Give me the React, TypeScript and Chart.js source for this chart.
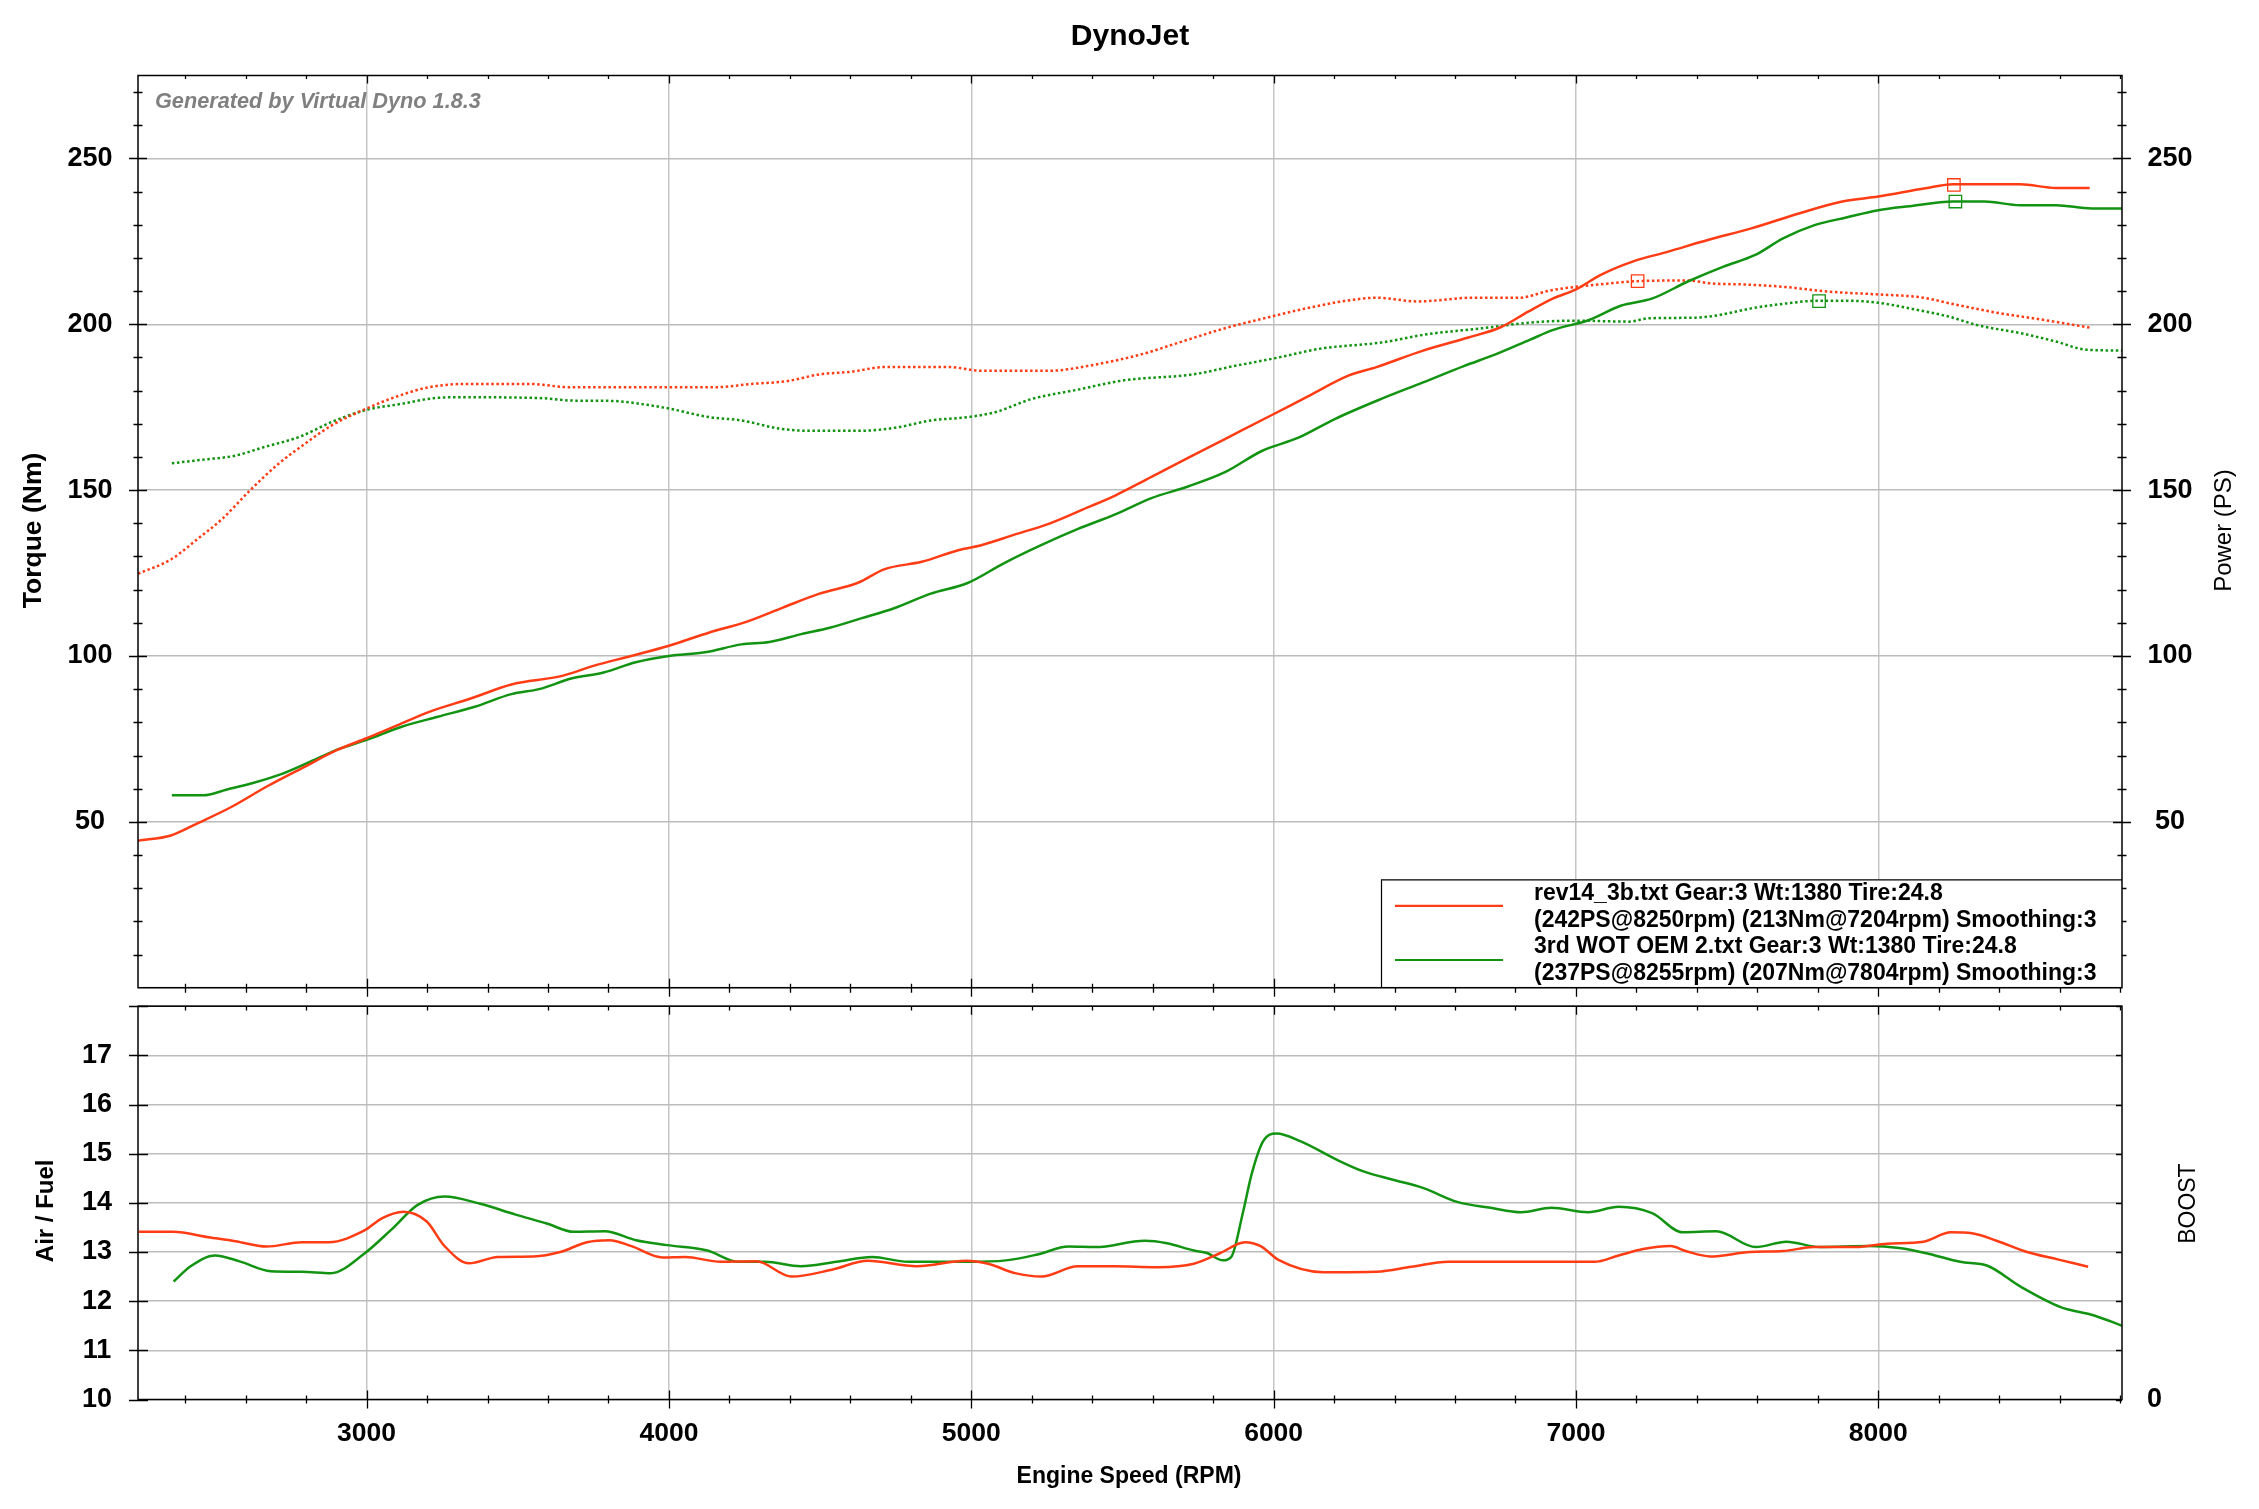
import React, { useEffect, useRef } from 'react';
import { Chart, registerables } from 'chart.js';

Chart.register(...registerables);

// ---------------- data ----------------
const rpmRange = [2244, 8806];
const rpmTicks = [3000, 4000, 5000, 6000, 7000, 8000];

const rev14PowerRpm = [2244, 2353, 2444, 2551, 2673, 2795, 2901, 3000, 3099, 3205, 3342, 3479, 3647, 3753, 3875, 4000, 4134, 4256, 4377, 4498, 4623, 4714, 4836, 4957, 5033, 5140, 5261, 5383, 5474, 5596, 5717, 5839, 5991, 6112, 6249, 6340, 6492, 6644, 6751, 6842, 6925, 7000, 7082, 7187, 7305, 7436, 7580, 7737, 7881, 8000, 8156, 8247, 8351, 8469, 8588, 8699];
const rev14PowerPS = [44.3, 45.9, 49.7, 54.4, 60.8, 66.6, 71.6, 75.2, 79, 83.1, 87.1, 91.4, 94, 97.1, 100, 103.1, 107.1, 110.3, 114.6, 118.8, 122, 126.2, 128.4, 131.9, 133.4, 136.5, 140, 144.7, 148.3, 154, 159.7, 165.4, 172.5, 178.2, 184.6, 187.1, 192, 196, 199.1, 203.8, 207.8, 210.5, 214.9, 218.9, 221.9, 225.4, 228.9, 233.4, 237, 238.5, 241, 242.2, 242.2, 242.2, 241.1, 241.1];

const oemPowerRpm = [2356, 2460, 2536, 2627, 2718, 2825, 2916, 3000, 3114, 3236, 3358, 3479, 3571, 3677, 3784, 3890, 4000, 4119, 4240, 4332, 4438, 4532, 4638, 4745, 4866, 4988, 5109, 5231, 5353, 5474, 5596, 5717, 5839, 5961, 6082, 6204, 6356, 6492, 6629, 6736, 6847, 6925, 7043, 7148, 7253, 7370, 7488, 7593, 7685, 7789, 7894, 8000, 8103, 8247, 8351, 8469, 8588, 8705, 8806];
const oemPowerPS = [58, 58, 59.7, 61.8, 64.4, 68.6, 72.2, 74.7, 78.6, 81.7, 84.7, 88.5, 90, 93.2, 95, 98.1, 100, 101.1, 103.5, 104.2, 106.6, 108.5, 111.4, 114.4, 118.8, 122, 128, 133.4, 138.3, 142.6, 147.6, 151.1, 155.4, 161.8, 165.8, 171.5, 177.5, 182.4, 187.4, 191, 195.3, 198.3, 201.3, 205.6, 207.8, 212.9, 217.4, 220.9, 225.9, 229.9, 232.2, 234.4, 235.6, 237, 237, 235.9, 235.9, 234.9, 234.9];

const rev14TorqueRpm = [2244, 2353, 2444, 2521, 2612, 2703, 2795, 2886, 3000, 3099, 3205, 3327, 3540, 3677, 3890, 4149, 4271, 4393, 4498, 4603, 4714, 4927, 5033, 5261, 5383, 5565, 5687, 5839, 5991, 6128, 6234, 6340, 6477, 6659, 6811, 6915, 7000, 7109, 7202, 7370, 7449, 7554, 7685, 7842, 7999, 8143, 8247, 8391, 8535, 8699];
const rev14TorqueNm = [124.8, 129.1, 135.5, 141.2, 149.7, 157.5, 163.9, 169.6, 174.6, 178.2, 181, 182, 182, 181, 181, 181, 182, 182.9, 184.9, 185.7, 187.1, 187.1, 186, 186, 187.4, 191, 194.5, 198.8, 202.3, 205.2, 207, 208, 206.9, 208, 208, 210.2, 211.3, 212.3, 213, 213.2, 212.3, 212, 211.3, 209.8, 209, 208.1, 206.1, 203.5, 201.5, 199];

const oemTorqueRpm = [2356, 2460, 2566, 2658, 2779, 2886, 3000, 3114, 3221, 3312, 3586, 3677, 3814, 3906, 4000, 4134, 4240, 4362, 4454, 4603, 4669, 4760, 4866, 4988, 5079, 5201, 5353, 5505, 5733, 5869, 6006, 6158, 6356, 6508, 6690, 6847, 7000, 7174, 7240, 7397, 7475, 7580, 7697, 7801, 7894, 7999, 8103, 8234, 8325, 8482, 8587, 8691, 8806];
const oemTorqueNm = [158.1, 159.2, 160.4, 162.9, 166.1, 170.6, 174.2, 176, 177.7, 178, 177.7, 177, 176.9, 176, 174.6, 172, 171, 168.6, 167.9, 167.9, 168, 169, 171, 172, 173.5, 177.5, 180.3, 183.1, 184.9, 187.4, 189.8, 192.7, 194.5, 197, 198.8, 200.5, 201.1, 200.8, 201.8, 202, 202.8, 204.8, 206.3, 207.1, 207.1, 206.5, 204.8, 202.3, 199.8, 197.1, 194.8, 192.3, 192.1];

const rev14AfrRpm = [2247, 2360, 2477, 2566, 2669, 2786, 2875, 2993, 3052, 3122, 3199, 3258, 3339, 3434, 3552, 3641, 3729, 3803, 3876, 3979, 4053, 4171, 4289, 4406, 4539, 4657, 4820, 4982, 5056, 5145, 5233, 5352, 5470, 5617, 5736, 5824, 5905, 5957, 6016, 6164, 6341, 6456, 6577, 6798, 7060, 7141, 7222, 7313, 7363, 7444, 7575, 7685, 7786, 7927, 8028, 8149, 8240, 8310, 8391, 8492, 8593, 8694];
const rev14Afr = [13.41, 13.41, 13.3, 13.22, 13.11, 13.2, 13.2, 13.44, 13.69, 13.82, 13.62, 13.12, 12.77, 12.9, 12.91, 13.0, 13.2, 13.24, 13.12, 12.89, 12.9, 12.8, 12.81, 12.5, 12.64, 12.82, 12.71, 12.82, 12.76, 12.57, 12.5, 12.71, 12.71, 12.69, 12.76, 12.98, 13.2, 13.12, 12.84, 12.59, 12.6, 12.7, 12.8, 12.8, 12.8, 12.93, 13.06, 13.12, 13.02, 12.91, 13.0, 13.02, 13.1, 13.1, 13.17, 13.21, 13.4, 13.38, 13.23, 13.0, 12.85, 12.7];

const oemAfrRpm = [2362, 2418, 2499, 2580, 2683, 2786, 2882, 2993, 3081, 3169, 3258, 3376, 3493, 3596, 3685, 3788, 3891, 3994, 4127, 4230, 4318, 4436, 4554, 4672, 4790, 4982, 5115, 5219, 5322, 5411, 5573, 5647, 5736, 5780, 5832, 5861, 5898, 5928, 5965, 6009, 6090, 6208, 6297, 6395, 6496, 6607, 6718, 6819, 6919, 7040, 7141, 7252, 7353, 7464, 7595, 7696, 7806, 7968, 8069, 8169, 8270, 8361, 8472, 8603, 8714, 8806];
const oemAfr = [12.4, 12.71, 12.93, 12.81, 12.61, 12.6, 12.57, 12.97, 13.45, 13.96, 14.13, 13.98, 13.76, 13.58, 13.41, 13.42, 13.24, 13.14, 13.03, 12.8, 12.8, 12.71, 12.8, 12.9, 12.8, 12.8, 12.83, 12.95, 13.11, 13.1, 13.23, 13.18, 13.03, 12.98, 12.83, 12.91, 13.79, 14.6, 15.25, 15.41, 15.25, 14.88, 14.64, 14.47, 14.3, 14.02, 13.9, 13.81, 13.9, 13.81, 13.92, 13.79, 13.4, 13.42, 13.1, 13.21, 13.1, 13.12, 13.08, 12.96, 12.8, 12.72, 12.29, 11.88, 11.71, 11.5];

// peak markers
const rev14PeakRpm = [8250, 7204];
const rev14PeakVal = [242, 213];
const oemPeakRpm = [8255, 7804];
const oemPeakVal = [237, 207];

const torqueTicks = [50, 100, 150, 200, 250];
const afrTicks = [10, 11, 12, 13, 14, 15, 16, 17];

const chartTitle = 'DynoJet';
const watermark = 'Generated by Virtual Dyno 1.8.3';
const legendRev14 = ['rev14_3b.txt Gear:3 Wt:1380 Tire:24.8', '(242PS@8250rpm) (213Nm@7204rpm) Smoothing:3'];
const legendOem = ['3rd WOT OEM 2.txt Gear:3 Wt:1380 Tire:24.8', '(237PS@8255rpm) (207Nm@7804rpm) Smoothing:3'];

// ---------------- style ----------------
const FONT = "'Liberation Sans', Arial, Helvetica, sans-serif";
const RED = '#ff3c14';
const GREEN = '#129312';
const W = 2259;
const TOP_H = 1000;
const BOT_H = 509;

const pts = (xs: number[], ys: number[]) => xs.map((x, i) => ({ x, y: ys[i] }));

const tickFont = { family: FONT, size: 27, weight: 'bold' as const };

function lineDs(label: string, data: any[], color: string, axis: string, dotted: boolean) {
  return {
    label,
    data,
    yAxisID: axis,
    borderColor: color,
    backgroundColor: color,
    borderWidth: 2.5,
    borderDash: dotted ? [2.5, 2.6] : [],
    pointRadius: 0,
    fill: false,
    cubicInterpolationMode: 'monotone' as const,
  };
}

function markerDs(data: any[], color: string, axis: string) {
  return {
    label: 'peak',
    data,
    yAxisID: axis,
    showLine: false,
    borderColor: color,
    backgroundColor: 'rgba(0,0,0,0)',
    pointStyle: 'rect' as const,
    pointRadius: 8.8,
    pointBorderWidth: 1.3,
  };
}

const topDecor = {
  id: 'topDecor',
  afterDraw(chart: any) {
    const { ctx, chartArea: a, scales } = chart;
    const x = scales.x;
    const y = scales.yT;
    ctx.save();
    ctx.strokeStyle = '#000';
    ctx.lineWidth = 1.3;
    ctx.beginPath();
    for (let v = 2400; v <= rpmRange[1]; v += 200) {
      const px = Math.round(x.getPixelForValue(v)) + 0.5;
      const major = v % 1000 === 0;
      ctx.moveTo(px, a.top);
      ctx.lineTo(px, a.top + (major ? 8 : 3.5));
      ctx.moveTo(px, a.bottom - (major ? 9 : 4));
      ctx.lineTo(px, a.bottom + (major ? 9 : 5));
    }
    for (let v = 10; v < 275; v += 10) {
      const py = Math.round(y.getPixelForValue(v)) + 0.5;
      const l = v % 50 === 0 ? 9 : 4.5;
      ctx.moveTo(a.left - l, py);
      ctx.lineTo(a.left + l, py);
      ctx.moveTo(a.right - l, py);
      ctx.lineTo(a.right + l, py);
    }
    ctx.stroke();

    // legend
    const lx = a.right - 741;
    const ly = a.bottom - 108.3;
    ctx.fillStyle = '#fff';
    ctx.fillRect(lx, ly, a.right - lx, a.bottom - ly);
    ctx.lineWidth = 1.2;
    ctx.beginPath();
    ctx.moveTo(lx + 0.5, a.bottom);
    ctx.lineTo(lx + 0.5, ly + 0.5);
    ctx.lineTo(a.right, ly + 0.5);
    ctx.stroke();
    ctx.lineWidth = 2.2;
    ctx.strokeStyle = RED;
    ctx.beginPath();
    ctx.moveTo(lx + 14, ly + 26.5);
    ctx.lineTo(lx + 122, ly + 26.5);
    ctx.stroke();
    ctx.strokeStyle = GREEN;
    ctx.beginPath();
    ctx.moveTo(lx + 14, ly + 80.6);
    ctx.lineTo(lx + 122, ly + 80.6);
    ctx.stroke();
    ctx.fillStyle = '#000';
    ctx.font = `bold 23px ${FONT}`;
    ctx.textAlign = 'left';
    ctx.textBaseline = 'alphabetic';
    const lines = [...legendRev14, ...legendOem];
    lines.forEach((t, i) => ctx.fillText(t, lx + 153, ly + 20.2 + i * 26.9));

    // frame
    ctx.strokeStyle = '#000';
    ctx.lineWidth = 1.5;
    ctx.strokeRect(a.left, a.top, a.right - a.left, a.bottom - a.top);

    // title
    ctx.fillStyle = '#000';
    ctx.font = `bold 30px ${FONT}`;
    ctx.textAlign = 'center';
    ctx.fillText(chartTitle, 1130, 45);

    // watermark
    ctx.fillStyle = '#808080';
    ctx.font = `italic bold 21.7px ${FONT}`;
    ctx.textAlign = 'left';
    ctx.fillText(watermark, a.left + 17, a.top + 32);

    // axis titles
    ctx.fillStyle = '#000';
    ctx.textAlign = 'center';
    ctx.textBaseline = 'middle';
    ctx.save();
    ctx.translate(33.5, 530.5);
    ctx.rotate(-Math.PI / 2);
    ctx.font = `bold 26.5px ${FONT}`;
    ctx.fillText('Torque (Nm)', 0, 0);
    ctx.restore();
    ctx.save();
    ctx.translate(2224, 530.5);
    ctx.rotate(-Math.PI / 2);
    ctx.font = `24px ${FONT}`;
    ctx.fillText('Power (PS)', 0, 0);
    ctx.restore();
    ctx.restore();
  },
};

const botDecor = {
  id: 'botDecor',
  afterDraw(chart: any) {
    const { ctx, chartArea: a, scales } = chart;
    const x = scales.x;
    const y = scales.afr;
    ctx.save();
    ctx.strokeStyle = '#000';
    ctx.lineWidth = 1.3;
    ctx.beginPath();
    for (let v = 2400; v <= rpmRange[1]; v += 200) {
      const px = Math.round(x.getPixelForValue(v)) + 0.5;
      const major = v % 1000 === 0;
      ctx.moveTo(px, a.top);
      ctx.lineTo(px, a.top + (major ? 8.5 : 4.3));
      ctx.moveTo(px, a.bottom - (major ? 9 : 4));
      ctx.lineTo(px, a.bottom + (major ? 9 : 4));
    }
    for (let v = 10; v <= 18; v += 1) {
      const py = Math.round(y.getPixelForValue(v)) + 0.5;
      ctx.moveTo(a.left - 9, py);
      ctx.lineTo(a.left + 10, py);
      ctx.moveTo(a.right - 6, py);
      ctx.lineTo(a.right, py);
    }
    ctx.stroke();

    ctx.lineWidth = 1.5;
    ctx.strokeRect(a.left, a.top, a.right - a.left, a.bottom - a.top);

    ctx.fillStyle = '#000';
    ctx.textAlign = 'center';
    ctx.textBaseline = 'alphabetic';
    ctx.font = `bold 23px ${FONT}`;
    ctx.fillText('Engine Speed (RPM)', 1129, 483.3);

    ctx.textBaseline = 'middle';
    ctx.save();
    ctx.translate(46.3, 210.8);
    ctx.rotate(-Math.PI / 2);
    ctx.font = `bold 24px ${FONT}`;
    ctx.fillText('Air / Fuel', 0, 0);
    ctx.restore();
    ctx.save();
    ctx.translate(2189, 203.6);
    ctx.rotate(-Math.PI / 2);
    ctx.font = `23px ${FONT}`;
    ctx.fillText('BOOST', 0, 0);
    ctx.restore();
    ctx.restore();
  },
};

function fixW(w: number) {
  return (s: any) => {
    s.width = w;
    s.paddingTop = 0;
    s.paddingBottom = 0;
  };
}
function fixH(h: number) {
  return (s: any) => {
    s.height = h;
    s.paddingLeft = 0;
    s.paddingRight = 0;
  };
}
const setTicks = (vals: number[]) => (s: any) => {
  s.ticks = vals.map((v) => ({ value: v }));
};

function topConfig(): any {
  return {
    type: 'line',
    data: {
      datasets: [
        lineDs('rev14 PS', pts(rev14PowerRpm, rev14PowerPS), RED, 'yP', false),
        lineDs('OEM PS', pts(oemPowerRpm, oemPowerPS), GREEN, 'yP', false),
        lineDs('rev14 Nm', pts(rev14TorqueRpm, rev14TorqueNm), RED, 'yT', true),
        lineDs('OEM Nm', pts(oemTorqueRpm, oemTorqueNm), GREEN, 'yT', true),
        markerDs(pts(rev14PeakRpm, rev14PeakVal), RED, 'yT'),
        markerDs(pts(oemPeakRpm, oemPeakVal), GREEN, 'yT'),
      ],
    },
    options: {
      responsive: false,
      animation: false,
      devicePixelRatio: 1,
      events: [],
      layout: { padding: { top: 75.5, bottom: TOP_H - 987.7, left: 0, right: 0 } },
      plugins: { legend: { display: false }, title: { display: false }, tooltip: { enabled: false } },
      scales: {
        x: {
          type: 'linear',
          bounds: 'data',
          min: rpmRange[0],
          max: rpmRange[1],
          afterBuildTicks: setTicks(rpmTicks),
          ticks: { display: false },
          grid: { color: '#c6c6c6', lineWidth: 1.5, drawTicks: false },
          border: { display: false },
          afterFit: fixH(0),
        },
        yT: {
          type: 'linear',
          position: 'left',
          bounds: 'data',
          min: 0,
          max: 275,
          afterBuildTicks: setTicks([0, ...torqueTicks]),
          ticks: {
            callback: (v: number) => (v === 0 ? '' : String(v)),
            font: tickFont,
            color: '#000',
            crossAlign: 'center',
            padding: 25.5,
          },
          grid: { color: '#bcbcbc', lineWidth: 1.5, drawTicks: false },
          border: { display: false },
          afterFit: fixW(138),
        },
        yP: {
          type: 'linear',
          position: 'right',
          bounds: 'data',
          min: 0,
          max: 275,
          afterBuildTicks: setTicks([0, ...torqueTicks]),
          ticks: {
            callback: (v: number) => (v === 0 ? '' : String(v)),
            font: tickFont,
            color: '#000',
            crossAlign: 'center',
            padding: 25.5,
          },
          grid: { drawOnChartArea: false, drawTicks: false },
          border: { display: false },
          afterFit: fixW(W - 2122),
        },
      },
    },
    plugins: [topDecor],
  };
}

function botConfig(): any {
  return {
    type: 'line',
    data: {
      datasets: [
        lineDs('rev14 AFR', pts(rev14AfrRpm, rev14Afr), RED, 'afr', false),
        lineDs('OEM AFR', pts(oemAfrRpm, oemAfr), GREEN, 'afr', false),
      ],
    },
    options: {
      responsive: false,
      animation: false,
      devicePixelRatio: 1,
      events: [],
      layout: { padding: { top: 6.2, bottom: BOT_H - 399.5 - 80, left: 0, right: 0 } },
      plugins: { legend: { display: false }, title: { display: false }, tooltip: { enabled: false } },
      scales: {
        x: {
          type: 'linear',
          bounds: 'data',
          min: rpmRange[0],
          max: rpmRange[1],
          afterBuildTicks: setTicks(rpmTicks),
          ticks: {
            font: { family: FONT, size: 26.5, weight: 'bold' },
            color: '#000',
            padding: 18.5,
            maxRotation: 0,
            autoSkip: false,
            callback: (v: number) => String(v),
          },
          grid: { color: '#c6c6c6', lineWidth: 1.5, drawTicks: false },
          border: { display: false },
          afterFit: fixH(80),
        },
        afr: {
          type: 'linear',
          position: 'left',
          bounds: 'data',
          min: 10,
          max: 18,
          afterBuildTicks: setTicks([...afrTicks, 18]),
          ticks: {
            callback: (v: number) => (v === 18 ? '' : String(v)),
            font: tickFont,
            color: '#000',
            crossAlign: 'center',
            padding: 26,
          },
          grid: { color: '#bcbcbc', lineWidth: 1.5, drawTicks: false },
          border: { display: false },
          afterFit: fixW(138),
        },
        boost: {
          type: 'linear',
          position: 'right',
          bounds: 'data',
          min: 0,
          max: 1,
          afterBuildTicks: setTicks([0]),
          ticks: {
            callback: (v: number) => (v === 0 ? '0' : ''),
            font: tickFont,
            color: '#000',
            crossAlign: 'near',
            padding: 25,
          },
          grid: { drawOnChartArea: false, drawTicks: false },
          border: { display: false },
          afterFit: fixW(W - 2122),
        },
      },
    },
    plugins: [botDecor],
  };
}

export default function App() {
  const topRef = useRef<HTMLCanvasElement>(null);
  const botRef = useRef<HTMLCanvasElement>(null);

  useEffect(() => {
    const c1 = new Chart(topRef.current as HTMLCanvasElement, topConfig());
    const c2 = new Chart(botRef.current as HTMLCanvasElement, botConfig());
    return () => {
      c1.destroy();
      c2.destroy();
    };
  }, []);

  return (
    <div style={{ position: 'fixed', left: 0, top: 0, width: W, height: TOP_H + BOT_H, background: '#fff', overflow: 'hidden' }}>
      <canvas ref={topRef} width={W} height={TOP_H} style={{ position: 'absolute', left: 0, top: 0, width: W, height: TOP_H, display: 'block' }} />
      <canvas ref={botRef} width={W} height={BOT_H} style={{ position: 'absolute', left: 0, top: TOP_H, width: W, height: BOT_H, display: 'block' }} />
    </div>
  );
}
